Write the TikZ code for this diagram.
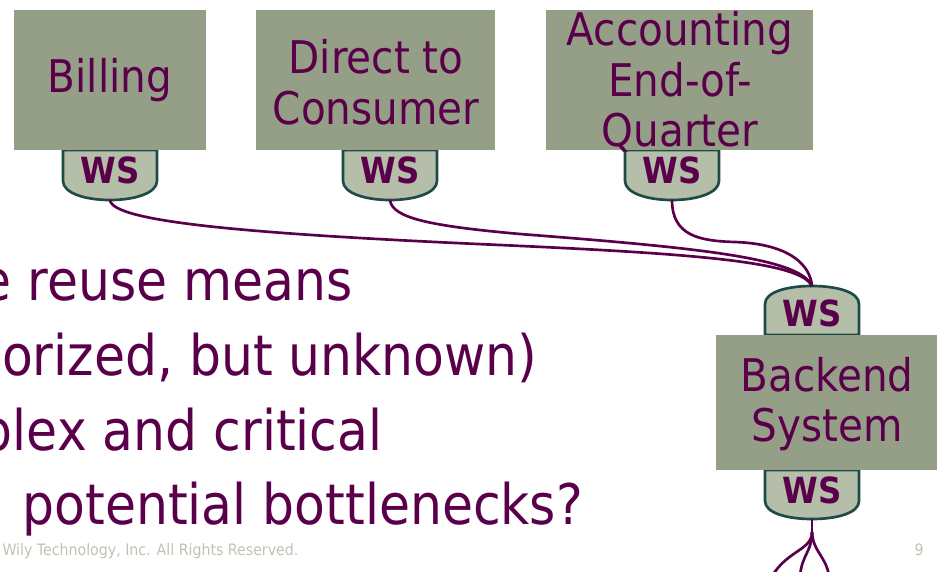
\documentclass[tikz,border=0pt]{standalone}
\usepackage{fontspec}
\setmainfont{DejaVu Sans}[FakeStretch=0.9]

\definecolor{plum}{HTML}{5A004B}
\definecolor{boxgreen}{HTML}{959F87}
\definecolor{wsgreen}{HTML}{B5BEA9}
\definecolor{wsedge}{HTML}{1F4B47}
\definecolor{footgray}{HTML}{BCC5B3}

\tikzset{every picture/.style={line width=0.75pt}}
\tikzset{
	sysbox/.style={fill=boxgreen},
	systext/.style={text=plum, align=center, inner sep=0pt, font=\fontsize{33.75}{38}\selectfont},
	shield/.style={fill=wsgreen, draw=wsedge, line width=2pt},
	wslabel/.style={text=plum, inner sep=0pt, font=\bfseries\fontsize{27}{30}\selectfont},
	wire/.style={draw=plum, line width=2pt},
	bigtext/.style={text=plum, inner sep=0pt, font=\fontsize{42}{50}\selectfont},
	foottext/.style={text=footgray, inner sep=0pt, font=\fontsize{11.8}{14}\selectfont}
}

\begin{document}
\begin{tikzpicture}[x=0.75pt,y=0.75pt,yscale=-1,xscale=1]
	\path[use as bounding box] (0,0) rectangle (937,571);

	%Shape: WS shield [id:billing]
	\draw [shield] (63,150) -- (63,181) .. controls (63,193) and (85,200) .. (110,200) .. controls (135,200) and (157,193) .. (157,181) -- (157,150) -- cycle ;
	%Shape: WS shield [id:direct]
	\draw [shield] (343,150) -- (343,181) .. controls (343,193) and (365,200) .. (390,200) .. controls (415,200) and (437,193) .. (437,181) -- (437,150) -- cycle ;
	%Shape: WS shield [id:accounting]
	\draw [shield] (625,150) -- (625,181) .. controls (625,193) and (647,200) .. (672,200) .. controls (697,200) and (719,193) .. (719,181) -- (719,150) -- cycle ;
	%Shape: WS shield [id:backend top]
	\draw [shield] (765,335) -- (765,304) .. controls (765,292) and (787,286) .. (812,286) .. controls (837,286) and (859,292) .. (859,304) -- (859,335) -- cycle ;
	%Shape: WS shield [id:backend bottom]
	\draw [shield] (765,470) -- (765,501) .. controls (765,513) and (787,519) .. (812,519) .. controls (837,519) and (859,513) .. (859,501) -- (859,470) -- cycle ;

	%Shape: Rectangle [id:billing]
	\fill [sysbox] (14,10) rectangle (206,150) ;
	%Shape: Rectangle [id:direct]
	\fill [sysbox] (256,10) rectangle (495,150) ;
	%Shape: Rectangle [id:accounting]
	\fill [sysbox] (546,10) rectangle (813,150) ;
	%Shape: Rectangle [id:backend]
	\fill [sysbox] (716,335) rectangle (937,470) ;

	% Text Node
	\node [systext] (billing) at (110,80) {Billing};
	% Text Node
	\node [systext] (direct) at (376,82) {Direct to\\Consumer};
	% Text Node
	\node [systext] (accounting) at (680,82) {Accounting\\End-of-\\Quarter};
	% Text Node
	\node [systext] (backend) at (827,404) {Backend\\System};

	% WS labels
	\node [wslabel] (wsbill) at (110,170) {WS};
	\node [wslabel] (wsdirect) at (390,170) {WS};
	\node [wslabel] (wsacct) at (672,170) {WS};
	\node [wslabel] (wsbackin) at (812,313) {WS};
	\node [wslabel] (wsbackout) at (812,490) {WS};

	% wire ends
	\coordinate (billout) at (110,200);
	\coordinate (directout) at (390,200);
	\coordinate (acctout) at (672,200);
	\coordinate (backin) at (812,286);
	\coordinate (backout) at (812,519);
	\coordinate (fork) at (812,532);

	%Curve Lines
	\draw [wire] (billout) .. controls (112,222) and (250,234) .. (500,245) .. controls (700,254) and (800,262) .. (backin) ;
	\draw [wire] (directout) .. controls (392,218) and (430,226) .. (520,234) .. controls (700,248) and (800,258) .. (backin) ;
	\draw [wire] (acctout) .. controls (672,236) and (700,241) .. (735,242) .. controls (790,244) and (810,265) .. (backin) ;
	\draw [wire] (backout) -- (fork) ;
	\draw [wire] (fork) .. controls (812,550) and (788,550) .. (772,576) ;
	\draw [wire] (fork) .. controls (812,552) and (802,554) .. (800,576) ;
	\draw [wire] (fork) .. controls (813,552) and (826,556) .. (829,576) ;

	% Text Node
	\node [bigtext, anchor=base east] (line1) at (353,300) {e reuse means};
	\node [bigtext, anchor=base east] (line2) at (538,375) {orized, but unknown)};
	\node [bigtext, anchor=base east] (line3) at (383,450) {blex and critical};
	\node [bigtext, anchor=base west] (line4) at (22,524) {potential bottlenecks?};

	% Footer
	\node [foottext, anchor=base west] (footer) at (2,555) {Wily Technology, Inc. All Rights Reserved.};
	\node [foottext, anchor=base] (pageno) at (919,555) {9};

\end{tikzpicture}
\end{document}
